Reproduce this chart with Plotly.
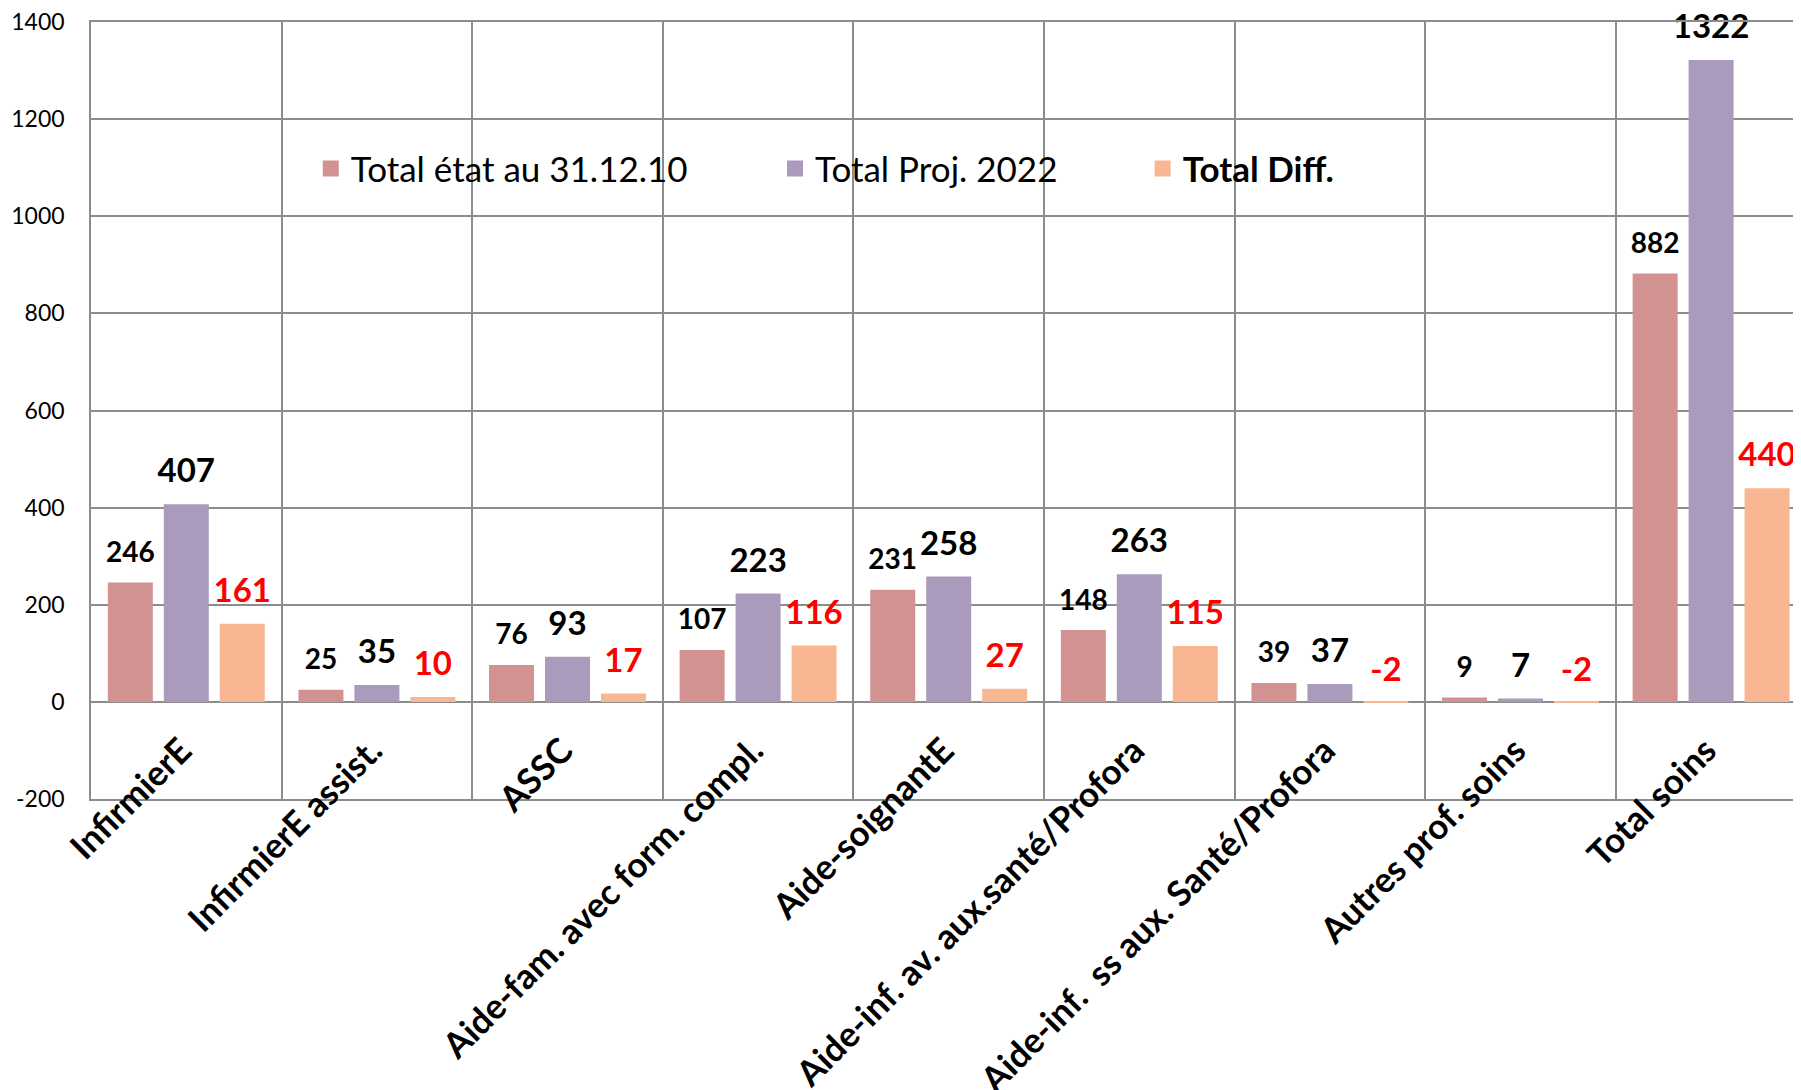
import plotly.graph_objects as go

categories = ["InfirmierE", "InfirmierE assist.", "ASSC", "Aide-fam. avec form. compl.",
              "Aide-soignantE", "Aide-inf. av. aux.santé/Profora",
              "Aide-inf.  ss aux. Santé/Profora", "Autres prof. soins", "Total soins"]
etat = [246, 25, 76, 107, 231, 148, 39, 9, 882]
proj = [407, 35, 93, 223, 258, 263, 37, 7, 1322]
diff = [161, 10, 17, 116, 27, 115, -2, -2, 440]
series_names = ["Total état au 31.12.10", "Total Proj. 2022", "<b>Total Diff.</b>"]
y_ticks = [-200, 0, 200, 400, 600, 800, 1000, 1200, 1400]
y_tick_text = ["-200", "0", "200", "400", "600", "800", "1000", "1200", "1400"]

colors = ["#d39292", "#aa9bbd", "#f8b692"]
label_colors = ["#000000", "#000000", "#ff0000"]
label_sizes = [28, 33, 33]
grid = "#8c8c8c"
FONT = "Lato"

xpos = list(range(len(categories)))
xrange = [-0.5, -0.5 + 1710 / 190.6]

fig = go.Figure()
for vals, col in zip([etat, proj, diff], colors):
    fig.add_trace(go.Bar(x=xpos, y=vals, marker=dict(color=col, line=dict(width=0)),
                         showlegend=False, hoverinfo="skip", xaxis="x", yaxis="y"))

for i, (vals, lc, ls) in enumerate(zip([etat, proj, diff], label_colors, label_sizes)):
    fig.add_trace(go.Scatter(x=xpos, y=vals, mode="markers+text",
                             text=[str(v) for v in vals], textposition="top center",
                             textfont=dict(family=FONT, size=ls, color=lc, weight="bold"),
                             marker=dict(size=20, opacity=0), offsetgroup=str(i),
                             showlegend=False, hoverinfo="skip", cliponaxis=False,
                             xaxis="x2", yaxis="y"))

for name, col, leg in zip(series_names, colors, ["legend", "legend2", "legend3"]):
    fig.add_trace(go.Scatter(x=[None], y=[None], mode="markers", name=name,
                             marker=dict(symbol="square", size=16, color=col),
                             legend=leg, xaxis="x", yaxis="y"))

legend_common = dict(y=0.811, yanchor="middle", xanchor="left", orientation="h",
                     font=dict(family=FONT, size=35, color="#000000"),
                     bgcolor="rgba(0,0,0,0)", borderwidth=0)

fig.update_layout(
    width=1793, height=1082,
    margin=dict(l=83, r=0, t=14, b=291, autoexpand=False),
    plot_bgcolor="white", paper_bgcolor="white",
    barmode="group", bargap=0.119, bargroupgap=0.196,
    scattermode="group", scattergap=0.119,
    hovermode=False,
    font=dict(family=FONT, color="#000000"),
    legend=dict(x=0.1285, **legend_common),
    legend2=dict(x=0.400, **legend_common),
    legend3=dict(x=0.615, **legend_common),
    xaxis=dict(range=xrange, tickmode="array", tickvals=[i - 0.5 for i in range(len(categories) + 1)],
               showticklabels=False, showgrid=True, gridcolor=grid, gridwidth=1.5,
               showline=True, linecolor=grid, linewidth=1.5, mirror=True,
               zeroline=False, ticks="", automargin=False),
    xaxis2=dict(range=xrange, overlaying="x", anchor="free", position=0.099, side="bottom",
                tickmode="array", tickvals=xpos, ticktext=categories, tickangle=-45,
                showgrid=False, showline=False, zeroline=False, ticks="", automargin=False,
                ticklabelshift=-5, ticklabeloverflow="allow",
                tickfont=dict(family=FONT, size=35, color="#000000", weight="bold")),
    yaxis=dict(range=[-200, 1400], tickmode="array", tickvals=y_ticks, ticktext=y_tick_text,
               showgrid=True, gridcolor=grid, gridwidth=1.5,
               zeroline=True, zerolinecolor=grid, zerolinewidth=1.5,
               showline=True, linecolor=grid, linewidth=1.5, ticks="", automargin=False,
               ticklabeloverflow="allow",
               tickfont=dict(family=FONT, size=23, color="#000000"), ticklabelstandoff=20),
)

fig.write_html("out.html")
